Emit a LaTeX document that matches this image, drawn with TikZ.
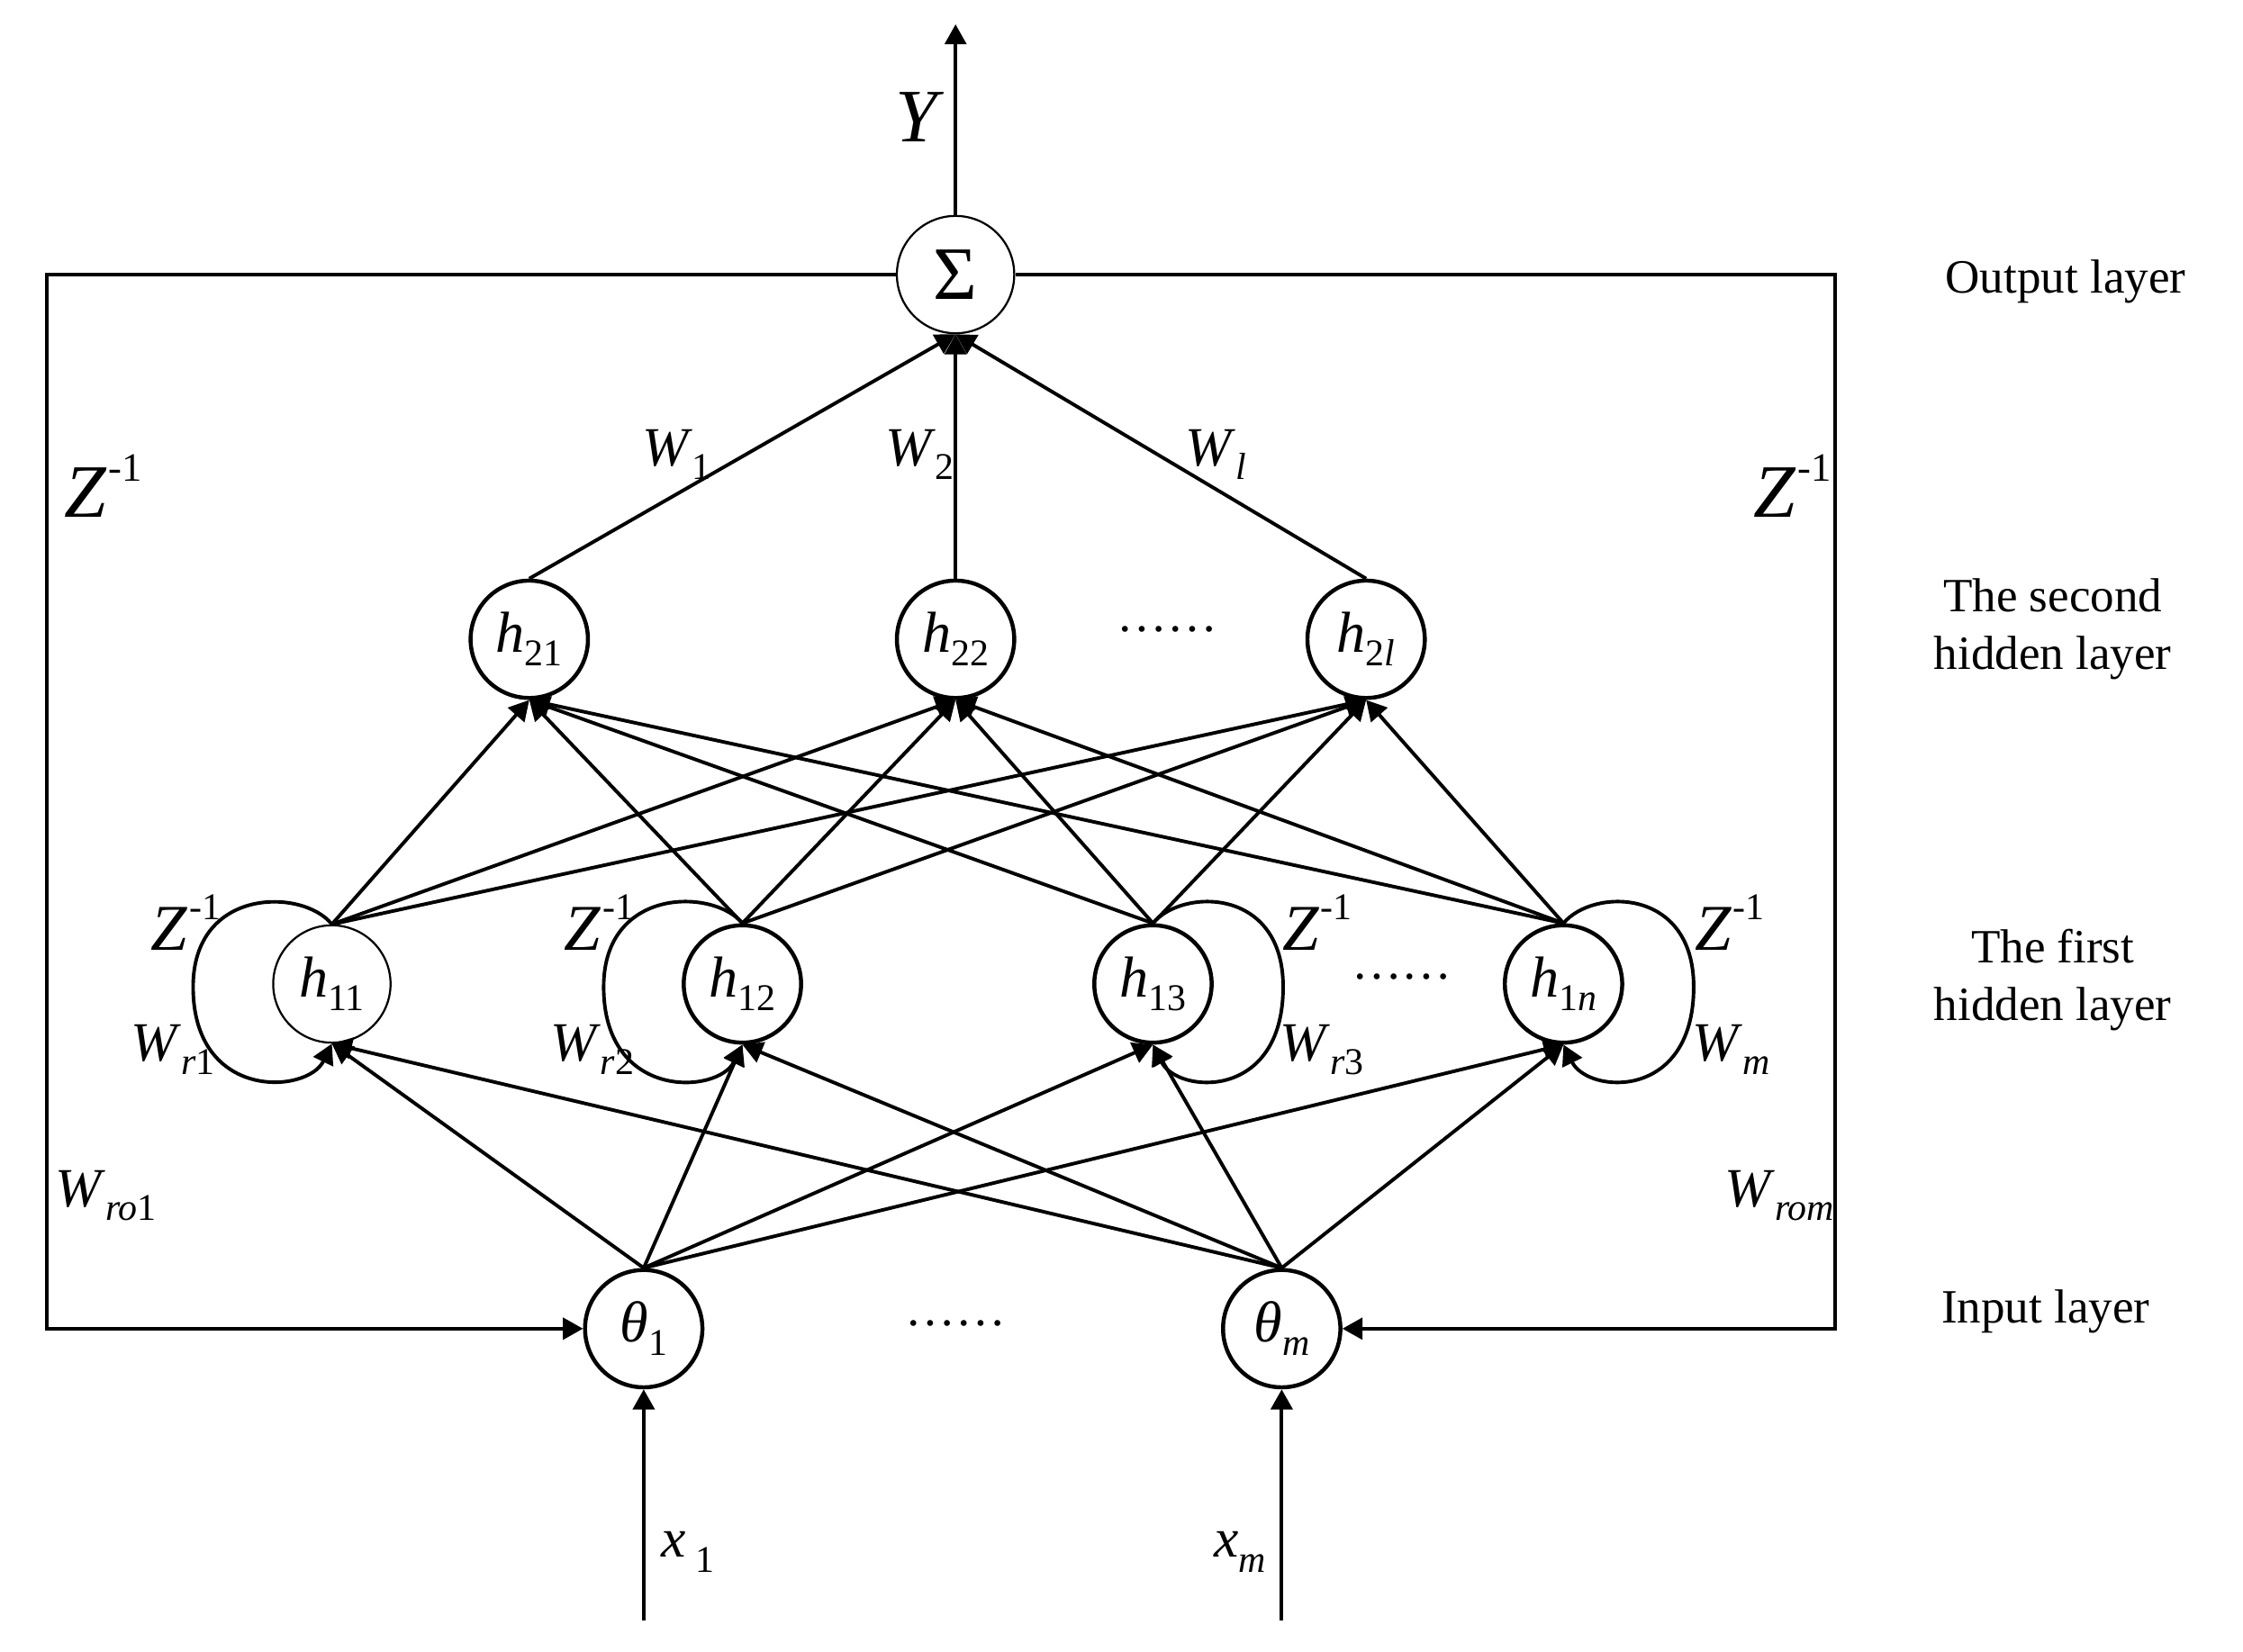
\documentclass[tikz,border=0pt]{standalone}
\usepackage{fontspec}
\setmainfont{Liberation Serif}
\usetikzlibrary{arrows.meta,calc}
\newcommand{\lsub}[2][2.7pt]{\raisebox{-#1}{\fontsize{7.5}{8}\selectfont #2}}
\newcommand{\zinv}[1]{\textit{Z}\kern0.02em\raisebox{0.48em}{\fontsize{#1}{#1}\selectfont -1}}
\begin{document}
\begin{tikzpicture}[x=0.01cm,y=-0.01cm,line width=0.7pt,
  arr/.style={-{Triangle[length=0.14cm,width=0.15cm]}},
  neuron/.style={circle,draw,minimum size=0.82cm,inner sep=0pt,line width=0.8pt,font=\fontsize{11.5}{12}\selectfont},
  thinneuron/.style={neuron,line width=0.4pt},
  lbl/.style={inner sep=0pt,font=\fontsize{11}{12}\selectfont},
  bigl/.style={inner sep=0pt,font=\fontsize{15}{15}\selectfont},
  zl/.style={inner sep=0pt,font=\fontsize{13}{13}\selectfont},
  layer/.style={align=center,inner sep=0pt,font=\fontsize{9.5}{11.5}\selectfont},
  dotsl/.style={inner sep=0pt,font=\fontsize{10}{10}\selectfont}]
\useasboundingbox (0,0) rectangle (1568,1155);

% nodes
\node[thinneuron,font=\fontsize{15}{15}\selectfont] (s) at (668,192) {Σ};
\node[neuron] (h21) at (370,447) {\textit{h}\lsub{21}};
\node[neuron] (h22) at (668,447) {\textit{h}\lsub{22}};
\node[neuron] (h23) at (955,447) {\textit{h}\lsub{2\textit{l}}};
\node[thinneuron] (h11) at (232,688) {\textit{h}\lsub{11}};
\node[neuron] (h12) at (519,688) {\textit{h}\lsub{12}};
\node[neuron] (h13) at (806,688) {\textit{h}\lsub{13}};
\node[neuron] (h14) at (1093,688) {\textit{h}\lsub{1\textit{n}}};
\node[neuron] (t1) at (450,929) {\textit{θ}\lsub{1}};
\node[neuron] (t2) at (896,929) {\textit{θ}\lsub{\textit{m}}};

% dots
\node[dotsl] (d1) at (816,440) {……};
\node[dotsl] (d2) at (980,683) {……};
\node[dotsl] (d3) at (668,925) {……};

% coordinates
\coordinate (ytop) at (668,17);
\coordinate (tl) at (33,192);
\coordinate (bl) at (33,929);
\coordinate (tr) at (1283,192);
\coordinate (br) at (1283,929);
\coordinate (x1in) at (450,1133);
\coordinate (x2in) at (896,1133);

% output and feedback box
\draw[arr] (s.north) -- (ytop);
\draw[arr] (s.west) -- (tl) -- (bl) -- (t1.west);
\draw[arr] (s.east) -- (tr) -- (br) -- (t2.east);

% inputs
\draw[arr] (x1in) -- (t1.south);
\draw[arr] (x2in) -- (t2.south);

% connections
\foreach \a in {h21,h22,h23} \draw[arr] (\a.north) -- (s.south);
\foreach \a in {h11,h12,h13,h14} \foreach \b in {h21,h22,h23} \draw[arr] (\a.north) -- (\b.south);
\foreach \a in {t1,t2} \foreach \b in {h11,h12,h13,h14} \draw[arr] (\a.north) -- (\b.south);

% self loops
\foreach \n in {h11,h12}
  \draw[arr] (\n.north) .. controls ($(\n)+(-20,-67)$) and ($(\n)+(-97,-68)$) .. ($(\n)+(-97,2)$)
     .. controls ($(\n)+(-97,82)$) and ($(\n)+(-17,77)$) .. (\n.south);
\foreach \n in {h13,h14}
  \draw[arr] (\n.north) .. controls ($(\n)+(20,-67)$) and ($(\n)+(91,-68)$) .. ($(\n)+(91,2)$)
     .. controls ($(\n)+(91,82)$) and ($(\n)+(17,77)$) .. (\n.south);

% labels
\node[bigl] (ylab) at (643,82) {\textit{Y}};
\node[lbl] (w1) at (473,318) {\textit{W}\lsub{1}};
\node[lbl] (w2) at (643,318) {\textit{W}\lsub{2}};
\node[lbl] (wl) at (850,318) {\textit{W}\lsub{\textit{l}}};
\node[bigl] (zbl) at (72,340) {\zinv{8}};
\node[bigl] (zbr) at (1253,340) {\zinv{8}};
\node[zl] (z1) at (130,645) {\zinv{7.5}};
\node[zl] (z2) at (419,645) {\zinv{7.5}};
\node[zl] (z3) at (921,645) {\zinv{7.5}};
\node[zl] (z4) at (1209,645) {\zinv{7.5}};
\node[lbl] (wr1) at (121,734) {\textit{W}\lsub{\textit{r}1}};
\node[lbl] (wr2) at (414,734) {\textit{W}\lsub{\textit{r}2}};
\node[lbl] (wr3) at (924,734) {\textit{W}\lsub{\textit{r}3}};
\node[lbl] (wrn) at (1210,734) {\textit{W}\lsub{\textit{m}}};
\node[lbl] (wro1) at (74,836) {\textit{W}\lsub{\textit{ro}1}};
\node[lbl] (wrom) at (1244,836) {\textit{W}\lsub{\textit{rom}}};
\node[lbl] (x1l) at (481,1085) {\textit{x}\,\lsub[3pt]{1}};
\node[lbl] (x2l) at (867,1085) {\textit{x}\lsub[3pt]{\textit{m}}};

% layer names
\node[layer] (lo) at (1444,197) {Output layer};
\node[layer] (l2) at (1435,440) {The second\\hidden layer};
\node[layer] (l1) at (1435,685) {The first\\hidden layer};
\node[layer] (li) at (1430,917) {Input layer};
\end{tikzpicture}
\end{document}
